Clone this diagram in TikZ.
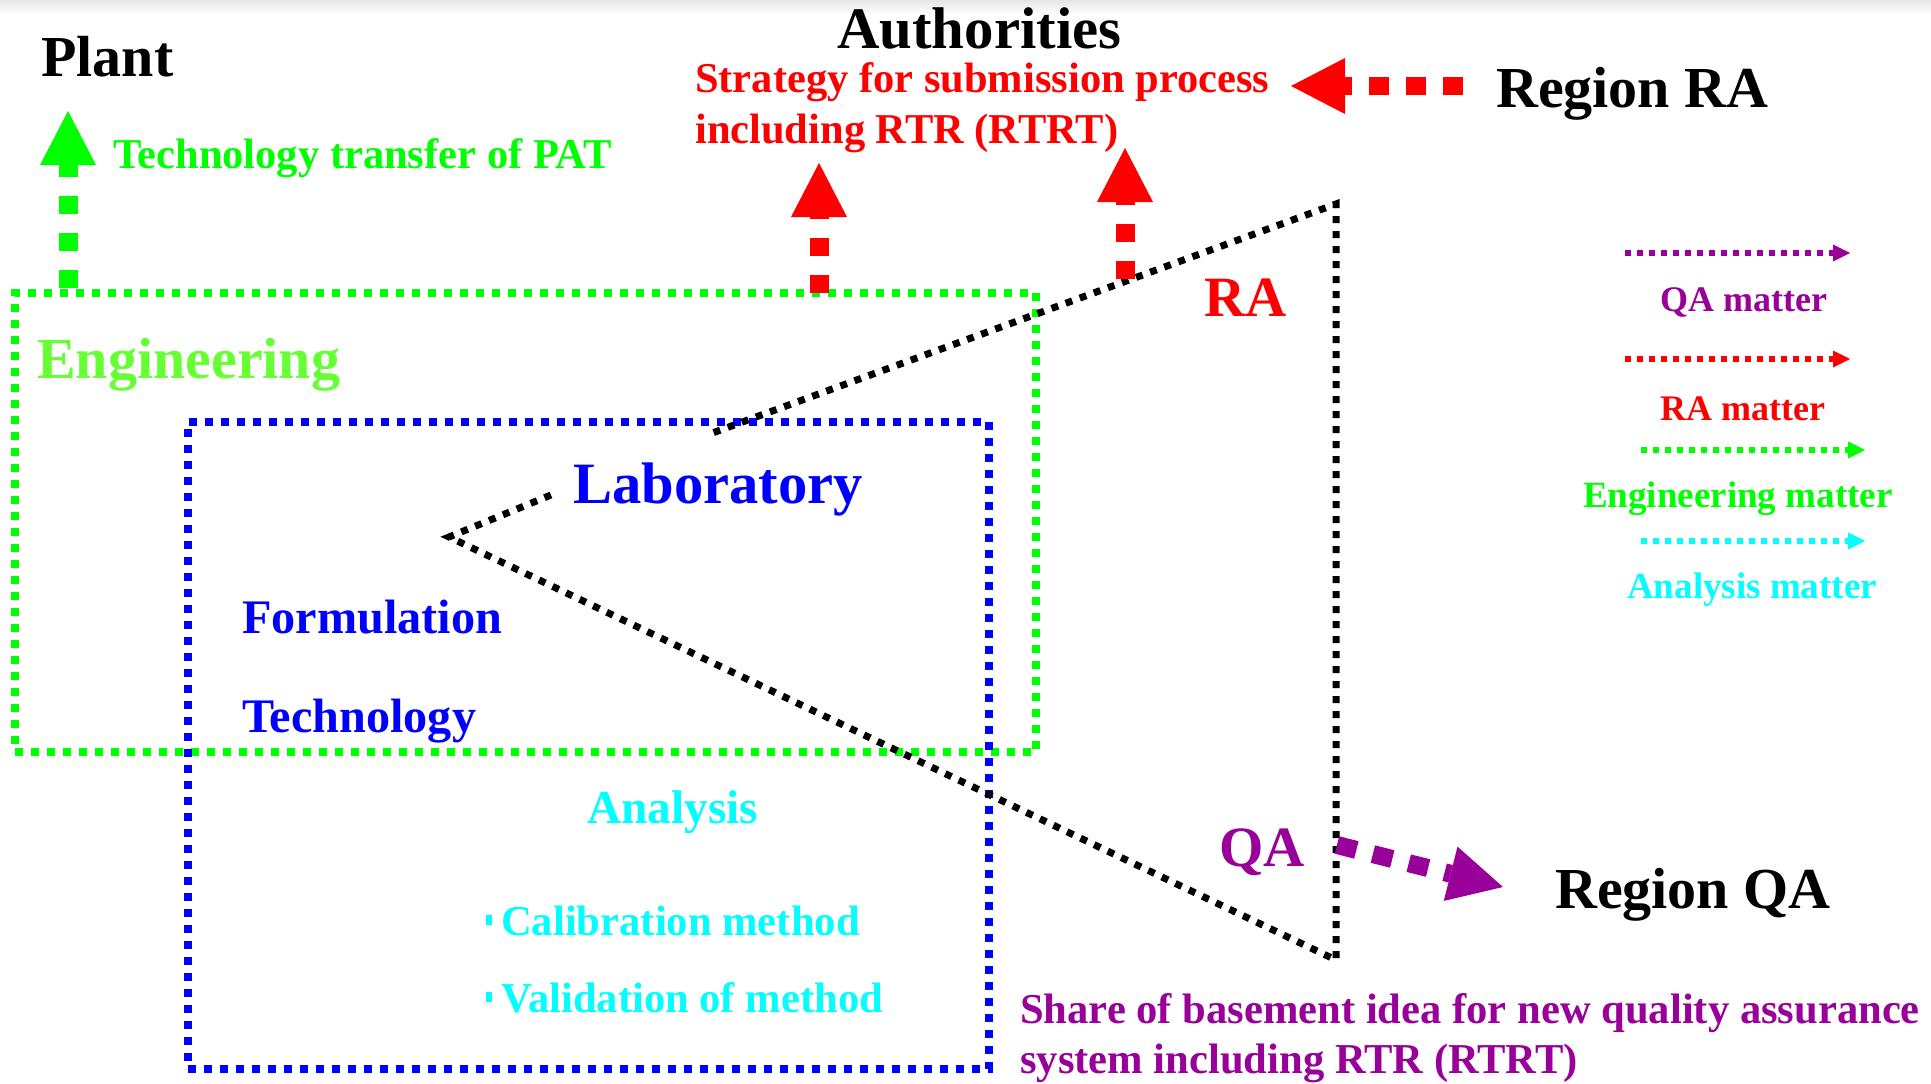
\documentclass[tikz,border=0pt]{standalone}
\usepackage{fontspec}
\setmainfont{Liberation Serif}
\usetikzlibrary{arrows.meta}
\definecolor{egreen}{RGB}{0,255,0}
\definecolor{elight}{RGB}{102,255,51}
\definecolor{ared}{RGB}{255,0,0}
\definecolor{qpurple}{RGB}{153,0,153}
\definecolor{lblue}{RGB}{0,0,255}
\definecolor{acyan}{RGB}{0,255,255}
\begin{document}
\begin{tikzpicture}[x=1pt,y=-1pt,
  lbl/.style={anchor=base west,inner sep=0pt,font=\bfseries\fontsize{#1}{#1}\selectfont},
  boxline/.style={line width=8pt,dash pattern=on 8pt off 8pt,inner sep=0pt,outer sep=0pt,anchor=north west},
  tridot/.style={line width=7pt,dash pattern=on 7pt off 8pt,black},
  bigarrow/.style={line width=19pt,dash pattern=on 18pt off 19pt,-{Triangle[length=54pt,width=56pt,line width=0pt]}},
  legarrow/.style={line width=6pt,dash pattern=on 6pt off 6pt,-{Triangle[length=17pt,width=17pt,line width=0pt]}}
]
\useasboundingbox (0,0) rectangle (1931,1084);
\shade[top color=black!10,bottom color=white] (0,0) rectangle (1931,14);

% boxes
\node[boxline,draw=egreen,minimum width=1021pt,minimum height=459pt] (engbox) at (15,293) {};
\node[boxline,draw=lblue,minimum width=801pt,minimum height=647pt] (labbox) at (188,422) {};

% triangle
\coordinate (tl) at (551,495);
\coordinate (tv) at (449,537);
\coordinate (tb) at (1336,960);
\coordinate (tt) at (1336,204);
\coordinate (tg) at (707,435);
\draw[tridot] (tl) -- (tv) -- (tb) -- (tt) -- (tg);

% texts
\node[lbl=58] (plant) at (41,76) {Plant};
\node[lbl=42.5,text=egreen] (transfer) at (113,168) {Technology transfer of PAT};
\node[lbl=58.8] (auth) at (837,48) {Authorities};
\node[lbl=42.5,text=ared] (strat1) at (695,92) {Strategy for submission process};
\node[lbl=42.5,text=ared] (strat2) at (695,143) {including RTR (RTRT)};
\node[lbl=58] (regra) at (1496,107) {Region RA};
\node[lbl=57,text=ared] (ra) at (1204,316) {RA};
\node[lbl=57,text=qpurple] (qa) at (1219,866) {QA};
\node[lbl=58] (regqa) at (1555,908) {Region QA};
\node[lbl=42.6,text=qpurple] (share1) at (1020,1023) {Share of basement idea for new quality assurance};
\node[lbl=42.6,text=qpurple] (share2) at (1020,1073) {system including RTR (RTRT)};
\node[lbl=58,text=elight] (eng) at (37,378) {Engineering};
\node[lbl=58.6,text=lblue] (lab) at (573,503) {Laboratory};
\node[lbl=48.2,text=lblue] (form) at (242,633) {Formulation};
\node[lbl=48.2,text=lblue] (tech) at (242,732) {Technology};
\node[lbl=47.3,text=acyan] (anal) at (587,823) {Analysis};
\node[lbl=42.6,text=acyan] (calib) at (486,935) {\rule[10pt]{6pt}{10pt}\hspace{9pt}Calibration method};
\node[lbl=42.6,text=acyan] (valid) at (486,1012) {\rule[10pt]{6pt}{10pt}\hspace{9pt}Validation of method};

% big arrows
\coordinate (plantbot) at (68,288);
\coordinate (planttip) at (68,111);
\draw[bigarrow,egreen] (plantbot) -- (planttip);
\coordinate (r1bot) at (819,293);
\coordinate (r1tip) at (819,163);
\draw[bigarrow,ared] (r1bot) -- (r1tip);
\coordinate (r2bot) at (1125,279);
\coordinate (r2tip) at (1125,148);
\draw[bigarrow,ared] (r2bot) -- (r2tip);
\coordinate (rlstart) at (1463,86);
\coordinate (rltip) at (1291,86);
\draw[bigarrow,ared,line width=18pt,dash pattern=on 20pt off 17pt] (rlstart) -- (rltip);
\coordinate (qastart) at (1337,845);
\coordinate (qatip) at (1503,887);
\draw[bigarrow,qpurple,line width=18pt,dash pattern=on 20pt off 17pt] (qastart) -- (qatip);

% legend
\coordinate (lg1a) at (1625,253); \coordinate (lg1b) at (1850,253);
\draw[legarrow,qpurple] (lg1a) -- (lg1b);
\node[lbl=36,text=qpurple] (lqa) at (1660,311) {QA matter};
\coordinate (lg2a) at (1625,359); \coordinate (lg2b) at (1850,359);
\draw[legarrow,ared] (lg2a) -- (lg2b);
\node[lbl=36,text=ared] (lra) at (1660,420) {RA matter};
\coordinate (lg3a) at (1641,450); \coordinate (lg3b) at (1865,450);
\draw[legarrow,egreen] (lg3a) -- (lg3b);
\node[lbl=37,text=egreen] (leng) at (1583,507) {Engineering matter};
\coordinate (lg4a) at (1641,541); \coordinate (lg4b) at (1865,541);
\draw[legarrow,acyan] (lg4a) -- (lg4b);
\node[lbl=37,text=acyan] (lan) at (1627,598) {Analysis matter};
\end{tikzpicture}
\end{document}
